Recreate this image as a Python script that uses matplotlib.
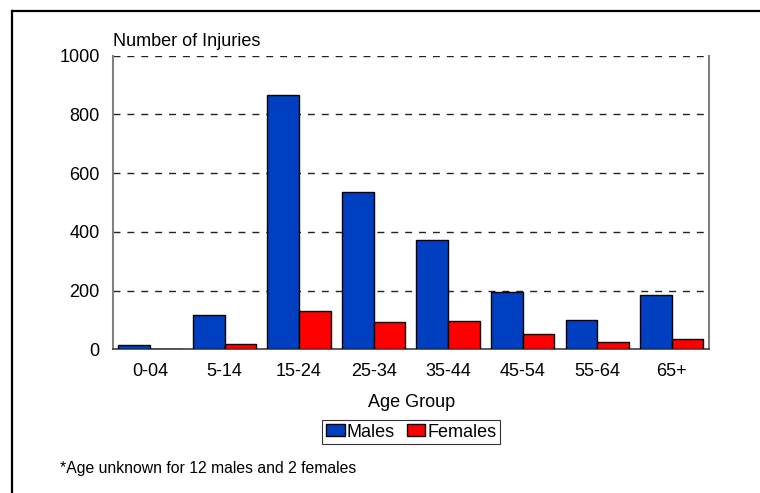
import matplotlib
matplotlib.use("Agg")
import matplotlib.pyplot as plt
import numpy as np
from matplotlib.lines import Line2D
from matplotlib.patches import Patch

plt.rcParams['font.family'] = ['Liberation Sans', 'DejaVu Sans']

categories = ["0-04", "5-14", "15-24", "25-34", "35-44", "45-54", "55-64", "65+"]
males = [14, 117, 867, 537, 373, 194, 99, 184]
females = [2, 17, 130, 92, 97, 52, 26, 34]
yticks = [0, 200, 400, 600, 800, 1000]

male_color = "#0040C0"
female_color = "#FF0000"

fig = plt.figure(figsize=(7.6, 4.93), dpi=100)
ax = fig.add_axes([0.1483, 0.2915, 0.7846, 0.5955])

x = np.arange(len(categories))
w = 0.425
ax.bar(x - w / 2, males, width=w, color=male_color, edgecolor="black", linewidth=1.0, zorder=3)
ax.bar(x + w / 2, females, width=w, color=female_color, edgecolor="black", linewidth=1.0, zorder=3)

ax.set_xlim(-0.5, len(categories) - 0.5)
ax.set_ylim(0, 1000)
ax.set_yticks(yticks)
ax.set_yticklabels([str(t) for t in yticks], fontsize=13)
ax.set_xticks(x)
ax.set_xticklabels(categories, fontsize=13)
ax.tick_params(axis='y', length=0, pad=9.5)
ax.tick_params(axis='x', length=0, pad=10)

for yv in yticks[1:]:
    ax.axhline(yv, color="#222222", linestyle=(0, (5, 5)), linewidth=1.0, zorder=1)

ax.spines['top'].set_visible(False)
for s in ['left', 'right']:
    ax.spines[s].set_color('#808080')
    ax.spines[s].set_linewidth(1.5)
ax.spines['bottom'].set_color('#404040')
ax.spines['bottom'].set_linewidth(1.2)

fig.text(0.1483, 0.899, "Number of Injuries", fontsize=13, ha='left', va='bottom')
fig.text(0.541, 0.183, "Age Group", fontsize=13, ha='center', va='center')
fig.text(0.079, 0.05, "*Age unknown for 12 males and 2 females", fontsize=11.3, ha='left', va='center')

handles = [Patch(facecolor=male_color, edgecolor='black', linewidth=1.0),
           Patch(facecolor=female_color, edgecolor='black', linewidth=1.0)]
leg = fig.legend(handles, ["Males", "Females"], loc='center', bbox_to_anchor=(0.541, 0.1237),
                 ncol=2, fontsize=13, frameon=True, fancybox=False, handlelength=1.05,
                 handleheight=0.6, handletextpad=0.1, columnspacing=0.65, borderpad=0.2,
                 borderaxespad=0)
leg.get_frame().set_edgecolor('black')
leg.get_frame().set_linewidth(0.8)

# outer frame lines (top and left)
fig.add_artist(Line2D([12 / 760, 1.0], [1 - 11 / 493, 1 - 11 / 493], color='black', linewidth=1.6,
                      transform=fig.transFigure))
fig.add_artist(Line2D([12 / 760, 12 / 760], [0, 1 - 11 / 493], color='black', linewidth=1.6,
                      transform=fig.transFigure))

fig.savefig("out.png", dpi=100)
